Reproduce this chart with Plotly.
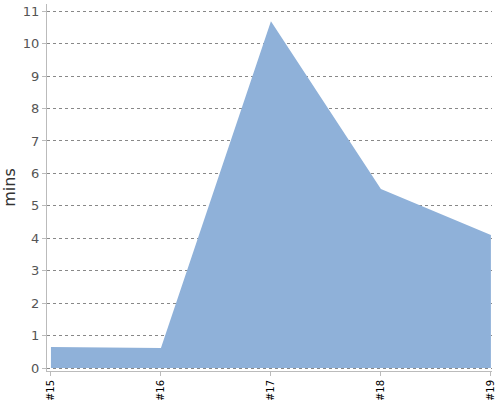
import plotly.graph_objs as go

# Data
categories = ['#15', '#16', '#17', '#18', '#19']
minutes = [0.65, 0.62, 10.69, 5.52, 4.1]

fig = go.Figure(
    data=[go.Scatter(x=categories, y=minutes, mode='lines', fill='tozeroy',
                     fillcolor='rgb(143,177,217)', line=dict(color='rgb(143,177,217)', width=0))],
)
fig.update_layout(
    width=500, height=400,
    margin=dict(l=47, r=8, t=4, b=29),
    plot_bgcolor='white', paper_bgcolor='white',
    showlegend=False,
    font=dict(family='DejaVu Sans'),
    xaxis=dict(type='category', range=[-0.036, 4.01], showgrid=False, automargin=False,
               showline=True, linecolor='#bbbbbb', linewidth=1,
               ticks='outside', ticklen=4, tickcolor='#bbbbbb',
               tickangle=-90, tickfont=dict(size=10, color='black')),
    yaxis=dict(title=dict(text='mins', font=dict(size=16, color='#333333'), standoff=8),
               range=[-0.09, 11.22], dtick=1, automargin=False,
               showgrid=True, gridcolor='#888888', griddash='dot', gridwidth=1,
               zeroline=False, showline=True, linecolor='#bbbbbb', linewidth=1,
               ticks='outside', ticklen=4, tickcolor='#bbbbbb',
               tickfont=dict(size=13, color='#555555')),
)
# drop the browser's default body margin so the figure sits at the page corner
fig.write_html("out.html", config={'displayModeBar': False},
               post_script="document.body.style.margin='0';")
